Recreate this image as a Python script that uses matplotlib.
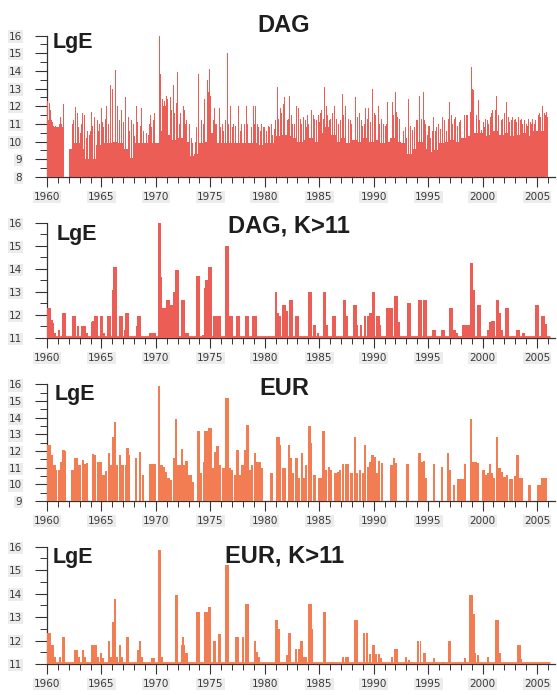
import numpy as np
import matplotlib
matplotlib.use("Agg")
import matplotlib.pyplot as plt
from matplotlib.ticker import MultipleLocator

# ---------------------------------------------------------------------------
# Data: seismic energy (LgE) of events in time, two catalogues (DAG, EUR)
# ---------------------------------------------------------------------------
# DAG, all events: densely filled background level, half-year steps from 1960.0
dag_floor_start = 1960.0
dag_floor = [8.0, 8.0, 8.0, 8.0, 9.6, 9.9, 9.6, 9.0, 9.0, 9.8,
             9.9, 9.9, 10.0, 9.9, 9.6, 9.1, 9.9, 9.9, 9.9, 9.9,
             9.9, 10.6, 10.4, 10.1, 10.2, 10.0, 9.2, 9.3, 9.9, 10.0,
             10.5, 9.9, 9.9, 9.9, 9.9, 9.9, 9.9, 9.9, 9.9, 9.8,
             9.9, 9.9, 10.3, 10.4, 10.3, 10.2, 10.0, 10.1, 10.2, 10.0,
             10.5, 10.8, 10.4, 10.0, 10.2, 9.9, 10.1, 10.0, 10.2, 10.0,
             10.1, 9.9, 10.0, 10.2, 10.0, 9.9, 9.3, 9.6, 10.0, 9.6,
             9.4, 9.5, 9.9, 10.0, 10.1, 10.0, 10.2, 10.3, 10.5, 10.5,
             10.3, 10.4, 10.6, 10.4, 10.5, 10.3, 10.4, 10.5, 10.3, 10.6,
             10.6, 10.6]

# DAG, individual events (year, LgE)
dag_events = [
    (1960.02, 12.3), (1960.12, 11.2), (1960.2, 12.2), (1960.3, 11.8), (1960.4, 11.2),
    (1960.52, 11.1), (1960.62, 10.8), (1960.75, 10.9), (1960.88, 10.8), (1961.0, 10.8),
    (1961.12, 11.0), (1961.25, 11.4), (1961.35, 10.9), (1961.55, 12.1), (1962.3, 11.0),
    (1962.45, 11.2), (1962.6, 11.95), (1962.8, 11.6), (1963.1, 10.5), (1963.3, 11.6),
    (1963.45, 11.5), (1963.7, 10.6), (1963.9, 10.4), (1964.1, 11.7), (1964.35, 11.4),
    (1964.5, 11.9), (1964.7, 10.6), (1965.0, 11.9), (1965.2, 10.8), (1965.5, 12.0),
    (1965.8, 13.2), (1966.05, 13.0), (1966.25, 14.05), (1966.5, 12.0), (1966.85, 11.8),
    (1967.05, 10.9), (1967.2, 12.5), (1967.45, 11.4), (1967.8, 11.2), (1968.0, 10.3),
    (1968.2, 12.0), (1968.45, 10.6), (1968.7, 11.9), (1969.0, 11.4), (1969.3, 10.4),
    (1969.5, 11.5), (1969.75, 11.2), (1969.9, 11.6), (1970.3, 16.0), (1970.45, 13.8),
    (1970.6, 12.4), (1970.8, 12.3), (1971.0, 12.6), (1971.2, 12.2), (1971.35, 12.5),
    (1971.6, 13.2), (1971.75, 11.6), (1971.96, 13.95), (1972.15, 11.0), (1972.4, 12.7),
    (1972.6, 11.8), (1972.8, 11.2), (1973.1, 11.0), (1973.4, 9.9), (1973.9, 13.85),
    (1974.2, 11.2), (1974.4, 11.0), (1974.6, 13.2), (1974.75, 13.5), (1974.95, 14.1),
    (1975.15, 12.0), (1975.35, 11.9), (1975.6, 11.0), (1975.8, 11.9), (1976.1, 11.0),
    (1976.55, 15.0), (1976.85, 12.0), (1977.1, 11.0), (1977.3, 10.9), (1977.6, 12.0),
    (1977.9, 11.0), (1978.3, 12.0), (1978.55, 11.0), (1978.95, 12.0), (1979.15, 12.0),
    (1979.45, 10.8), (1979.7, 11.0), (1980.0, 10.8), (1980.3, 10.9), (1980.6, 11.0),
    (1980.85, 10.7), (1981.15, 13.1), (1981.4, 11.9), (1981.7, 12.1), (1981.85, 12.5),
    (1982.05, 11.2), (1982.3, 12.6), (1982.55, 11.0), (1982.9, 12.0), (1983.1, 11.9),
    (1983.4, 11.0), (1983.7, 11.2), (1983.9, 11.5), (1984.15, 13.1), (1984.45, 11.5),
    (1984.75, 11.2), (1985.0, 11.1), (1985.25, 11.8), (1985.5, 13.1), (1985.8, 11.5),
    (1986.05, 11.3), (1986.4, 12.0), (1986.8, 11.0), (1987.1, 12.7), (1987.4, 12.0),
    (1987.7, 11.3), (1988.1, 12.4), (1988.3, 12.5), (1988.7, 11.6), (1989.0, 10.9),
    (1989.26, 11.9), (1989.55, 11.9), (1989.9, 13.0), (1990.2, 11.5), (1990.4, 12.0),
    (1990.9, 11.0), (1991.1, 10.9), (1991.3, 12.25), (1991.7, 12.25), (1992.0, 12.8),
    (1992.2, 11.4), (1992.6, 11.0), (1992.9, 10.8), (1993.2, 12.4), (1993.6, 10.65),
    (1993.9, 11.2), (1994.2, 12.6), (1994.55, 12.8), (1994.8, 11.0), (1995.0, 10.9),
    (1995.25, 10.2), (1995.5, 11.4), (1995.8, 10.8), (1996.3, 11.4), (1996.7, 10.6),
    (1997.0, 12.25), (1997.4, 11.3), (1997.85, 11.1), (1998.2, 11.4), (1998.5, 11.5),
    (1999.0, 14.2), (1999.2, 12.9), (1999.6, 12.35), (1999.9, 10.65), (2000.2, 10.8),
    (2000.45, 11.2), (2000.7, 11.4), (2000.9, 11.8), (2001.3, 12.6), (2001.7, 11.2),
    (2002.2, 12.25), (2002.5, 11.1), (2002.9, 11.2), (2003.3, 11.4), (2003.7, 11.0),
    (2004.1, 10.9), (2004.5, 11.0), (2004.75, 11.0), (2005.0, 12.35), (2005.25, 11.6),
    (2005.5, 12.0), (2005.75, 11.5), (2005.95, 11.4),
    # smaller events between the larger ones
    (1960.07, 11.5), (1960.15, 11.0), (1960.25, 11.6), (1960.35, 11.2), (1960.45, 11.0),
    (1960.57, 10.9), (1960.68, 10.8), (1960.8, 10.7), (1960.93, 10.8), (1961.05, 10.8),
    (1961.18, 10.9), (1961.3, 11.0), (1961.42, 10.8), (1961.5, 11.8),
    (1962.9, 10.8), (1963.2, 11.0), (1963.6, 10.2), (1964.0, 10.6), (1964.2, 10.9),
    (1964.6, 11.2), (1964.85, 11.0), (1965.1, 11.1), (1965.35, 11.3), (1965.65, 11.0),
    (1966.65, 11.2), (1967.0, 11.1), (1967.6, 10.6), (1967.95, 11.0), (1968.35, 11.1),
    (1968.6, 10.9), (1968.85, 10.6), (1969.15, 10.5), (1969.4, 11.0), (1969.6, 10.8),
    (1970.1, 10.6), (1970.7, 12.0), (1970.9, 12.0), (1971.1, 12.4), (1971.45, 11.8),
    (1971.85, 12.2), (1972.3, 11.6), (1972.5, 12.0), (1972.7, 11.0), (1972.95, 10.8),
    (1973.25, 10.2), (1973.6, 10.0), (1973.75, 10.8), (1974.05, 10.6), (1974.5, 12.4),
    (1974.85, 12.8), (1975.05, 12.6), (1975.25, 11.2), (1975.45, 11.0), (1975.7, 11.5),
    (1975.95, 10.8), (1976.25, 10.6), (1976.4, 11.2), (1976.7, 11.0), (1977.0, 10.8),
    (1977.45, 11.0), (1977.75, 10.6), (1978.1, 11.0), (1978.45, 11.0), (1978.75, 10.8),
    (1979.05, 11.0), (1979.3, 11.0), (1979.6, 10.6), (1979.85, 10.8), (1980.15, 10.6),
    (1980.45, 10.8), (1980.75, 10.4), (1981.0, 11.2), (1981.3, 11.3), (1981.55, 11.6),
    (1982.2, 11.3), (1982.45, 11.5), (1982.75, 11.0), (1983.25, 11.3), (1983.55, 11.4),
    (1983.8, 10.8), (1984.05, 11.0), (1984.3, 11.8), (1984.6, 11.3), (1984.9, 11.5),
    (1985.1, 11.6), (1985.4, 11.3), (1985.65, 12.0), (1985.95, 11.2), (1986.2, 11.6),
    (1986.55, 11.3), (1986.95, 11.2), (1987.25, 11.5), (1987.55, 11.0), (1987.85, 11.2),
    (1988.0, 11.0), (1988.5, 11.4), (1988.85, 11.2), (1989.15, 11.0), (1989.4, 11.3),
    (1989.7, 11.1), (1990.05, 11.6), (1990.55, 11.0), (1990.75, 11.3), (1991.2, 11.0),
    (1991.5, 11.3), (1991.85, 11.5), (1992.1, 11.7), (1992.4, 11.3), (1992.75, 10.6),
    (1993.05, 10.2), (1993.4, 10.9), (1993.75, 10.8), (1994.05, 11.2), (1994.4, 11.3),
    (1994.65, 11.2), (1994.95, 10.4), (1995.1, 10.9), (1995.4, 10.6), (1995.65, 10.6),
    (1995.95, 11.0), (1996.15, 10.7), (1996.5, 11.2), (1996.85, 11.3), (1997.15, 11.5),
    (1997.25, 11.0), (1997.55, 11.4), (1997.7, 10.9), (1998.0, 11.2), (1998.35, 11.5),
    (1998.65, 11.5), (1998.85, 11.7), (1999.1, 13.0), (1999.4, 11.5), (1999.75, 11.2),
    (2000.05, 11.1), (2000.3, 11.3), (2000.55, 11.0), (2000.8, 11.6), (2001.05, 11.4),
    (2001.15, 11.8), (2001.5, 11.5), (2001.85, 11.3), (2002.05, 11.6), (2002.35, 11.4),
    (2002.65, 11.2), (2002.75, 11.4), (2003.05, 11.3), (2003.15, 11.1), (2003.45, 11.2),
    (2003.55, 11.3), (2003.85, 11.2), (2004.0, 11.0), (2004.25, 11.3), (2004.4, 11.1),
    (2004.6, 11.3), (2004.9, 11.2), (2005.15, 11.5), (2005.35, 11.4), (2005.65, 11.6),
    (2005.85, 11.7),
]

# DAG, events with K > 11
dagk_events = [
    (1960.05, 12.3), (1960.25, 12.3), (1960.45, 11.8), (1960.55, 11.65), (1960.75, 11.2),
    (1961.1, 11.35), (1961.45, 12.1), (1961.6, 12.1), (1962.4, 11.95), (1962.6, 11.95),
    (1962.85, 11.5), (1963.2, 11.5), (1963.45, 11.5), (1963.7, 11.2), (1964.1, 11.7),
    (1964.25, 11.75), (1964.45, 11.95), (1964.6, 11.95), (1965.0, 11.95), (1965.2, 11.2),
    (1965.6, 11.95), (1965.75, 11.95), (1966.1, 13.1), (1966.2, 14.1), (1966.35, 14.1),
    (1966.7, 11.95), (1966.85, 11.95), (1967.15, 11.35), (1967.3, 12.1), (1967.45, 12.1),
    (1968.25, 11.5), (1968.4, 11.95), (1968.55, 11.95), (1969.5, 11.2), (1969.7, 11.2),
    (1969.9, 11.2), (1970.25, 16.0), (1970.4, 16.0), (1970.5, 13.65), (1970.7, 12.3),
    (1970.85, 12.3), (1971.0, 12.65), (1971.15, 12.65), (1971.35, 12.45), (1971.5, 12.45),
    (1971.65, 13.0), (1971.9, 13.95), (1972.05, 13.95), (1972.45, 12.65), (1972.6, 12.65),
    (1972.8, 11.2), (1972.95, 11.2), (1973.8, 13.7), (1973.95, 13.7), (1974.3, 11.15),
    (1974.5, 13.15), (1974.65, 13.5), (1974.8, 13.5), (1974.9, 14.1), (1975.05, 14.1),
    (1975.3, 11.95), (1975.45, 11.95), (1975.6, 11.95), (1975.75, 11.95), (1975.9, 11.95),
    (1976.45, 15.0), (1976.6, 15.0), (1976.8, 11.95), (1976.95, 11.95), (1977.5, 11.95),
    (1977.65, 11.95), (1978.3, 11.95), (1978.45, 11.95), (1978.9, 11.95), (1979.05, 11.95),
    (1979.2, 11.95), (1981.05, 13.0), (1981.2, 12.1), (1981.35, 11.95), (1981.7, 12.45),
    (1981.85, 12.45), (1982.0, 12.15), (1982.3, 12.65), (1982.45, 12.65), (1982.9, 11.95),
    (1983.05, 11.95), (1984.1, 13.0), (1984.25, 13.0), (1984.5, 11.55), (1984.6, 11.55),
    (1984.9, 11.2), (1985.4, 13.0), (1985.55, 13.0), (1985.75, 11.55), (1986.3, 11.95),
    (1986.4, 11.95), (1987.25, 12.65), (1987.4, 12.65), (1987.55, 11.95), (1988.2, 12.45),
    (1988.35, 12.45), (1988.5, 11.55), (1988.8, 11.55), (1989.2, 11.95), (1989.5, 11.95),
    (1989.7, 12.1), (1989.9, 13.0), (1990.05, 13.0), (1990.3, 11.95), (1990.45, 11.95),
    (1990.6, 11.55), (1991.25, 12.3), (1991.45, 12.3), (1991.65, 12.3), (1992.0, 12.8),
    (1992.15, 12.8), (1992.3, 11.7), (1993.2, 12.5), (1993.35, 12.5), (1994.2, 12.65),
    (1994.35, 12.65), (1994.6, 12.65), (1994.75, 12.65), (1995.5, 11.35), (1995.6, 11.35),
    (1996.3, 11.35), (1996.45, 11.35), (1997.0, 12.3), (1997.15, 12.3), (1997.35, 11.35),
    (1997.5, 11.35), (1997.65, 11.2), (1998.25, 11.55), (1998.4, 11.55), (1998.55, 11.55),
    (1998.7, 11.55), (1998.9, 14.25), (1999.05, 14.25), (1999.2, 13.1), (1999.6, 12.45),
    (1999.75, 12.45), (2000.5, 11.35), (2000.7, 11.7), (2000.85, 11.75), (2001.0, 11.75),
    (2001.3, 12.65), (2001.45, 12.65), (2001.6, 12.1), (2001.75, 11.35), (2002.2, 12.3),
    (2002.35, 12.3), (2003.2, 11.35), (2003.35, 11.35), (2003.75, 11.2), (2004.9, 12.45),
    (2005.05, 12.45), (2005.45, 11.95), (2005.6, 11.95), (2005.8, 11.6),
]

# EUR, all events
eur_events = [
    (1960.1, 12.36), (1960.25, 12.36), (1960.4, 11.76), (1960.55, 11.16), (1960.7, 11.16),
    (1960.85, 10.86), (1961.1, 10.86), (1961.3, 11.36), (1961.5, 12.06), (1961.65, 12.0),
    (1962.35, 10.86), (1962.55, 11.56), (1962.75, 11.56), (1963.0, 11.16), (1963.3, 11.46),
    (1963.5, 11.2), (1963.7, 11.26), (1964.2, 11.8), (1964.4, 11.76), (1964.7, 11.36),
    (1964.9, 11.36), (1965.2, 10.56), (1965.4, 10.8), (1965.7, 11.9), (1965.9, 11.16),
    (1966.1, 12.86), (1966.25, 13.76), (1966.4, 11.16), (1966.7, 11.76), (1966.95, 11.16),
    (1967.25, 11.16), (1967.4, 12.16), (1967.55, 11.76), (1968.2, 11.56), (1968.55, 11.96),
    (1968.8, 10.56), (1969.5, 11.2), (1969.75, 11.2), (1969.9, 11.2), (1970.3, 15.92),
    (1970.5, 11.16), (1970.75, 11.06), (1970.9, 10.76), (1971.15, 10.36), (1971.35, 10.26),
    (1971.65, 11.56), (1971.85, 13.92), (1972.0, 11.16), (1972.15, 11.16), (1972.4, 12.12),
    (1972.55, 11.16), (1972.8, 11.4), (1973.0, 10.56), (1973.2, 10.56), (1973.4, 10.16),
    (1973.9, 13.2), (1974.15, 10.66), (1974.4, 11.36), (1974.5, 13.2), (1974.7, 13.2),
    (1974.9, 13.36), (1975.05, 13.36), (1975.2, 10.96), (1975.45, 11.96), (1975.65, 12.32),
    (1975.85, 11.16), (1976.2, 11.0), (1976.45, 15.2), (1976.6, 15.2), (1976.75, 10.96),
    (1977.0, 10.86), (1977.3, 10.56), (1977.5, 12.06), (1977.75, 10.56), (1977.95, 11.16),
    (1978.2, 12.06), (1978.4, 13.56), (1978.65, 10.86), (1978.8, 11.16), (1979.1, 11.9),
    (1979.25, 11.36), (1979.5, 11.36), (1979.7, 10.96), (1980.6, 10.66), (1981.1, 12.86),
    (1981.25, 12.86), (1981.4, 12.36), (1981.7, 11.0), (1981.85, 11.0), (1982.2, 12.36),
    (1982.35, 11.56), (1982.6, 10.66), (1982.9, 11.56), (1983.1, 10.36), (1983.4, 11.9),
    (1983.55, 10.36), (1983.8, 11.16), (1984.1, 13.52), (1984.25, 12.46), (1984.55, 10.56),
    (1985.0, 10.36), (1985.2, 10.36), (1985.4, 13.2), (1985.6, 10.86), (1985.9, 11.06),
    (1986.1, 10.86), (1986.5, 10.66), (1986.75, 10.76), (1986.9, 10.86), (1987.2, 11.2),
    (1987.45, 11.2), (1987.65, 11.2), (1987.95, 10.66), (1988.3, 12.86), (1988.45, 10.66),
    (1988.75, 10.86), (1989.0, 10.66), (1989.2, 12.36), (1989.45, 11.06), (1989.65, 11.36),
    (1989.9, 11.76), (1990.1, 11.66), (1990.35, 10.66), (1990.5, 11.4), (1990.75, 11.26),
    (1991.65, 11.16), (1991.85, 11.56), (1992.05, 11.26), (1993.1, 11.2), (1994.2, 11.9),
    (1994.4, 11.36), (1994.6, 11.4), (1994.8, 10.36), (1995.55, 11.2), (1996.3, 11.06),
    (1996.85, 11.86), (1997.0, 10.86), (1997.4, 9.96), (1997.8, 10.32), (1998.0, 10.32),
    (1998.2, 10.32), (1998.4, 11.2), (1998.95, 13.92), (1999.15, 11.36), (1999.4, 11.32),
    (1999.6, 11.26), (2000.1, 10.86), (2000.35, 10.56), (2000.55, 10.66), (2000.7, 11.2),
    (2000.85, 10.66), (2001.05, 10.36), (2001.3, 12.86), (2001.55, 11.0), (2001.75, 10.76),
    (2002.0, 10.46), (2002.25, 10.56), (2002.5, 10.32), (2002.7, 10.32), (2002.95, 10.5),
    (2003.2, 11.76), (2003.45, 10.36), (2003.6, 10.36), (2004.3, 9.96), (2005.1, 9.96),
    (2005.25, 9.96), (2005.5, 10.36), (2005.7, 10.36), (2005.85, 10.36),
]

# EUR, events with K > 11
eurk_events = [
    (1960.1, 12.33), (1960.25, 12.33), (1960.4, 11.8), (1960.55, 11.8), (1960.7, 11.3),
    (1961.2, 11.3), (1961.45, 12.16), (1961.6, 12.16), (1962.55, 11.6), (1962.75, 11.6),
    (1962.95, 11.3), (1963.3, 11.6), (1963.45, 11.3), (1964.1, 11.8), (1964.3, 11.8),
    (1964.5, 11.8), (1964.7, 11.3), (1965.0, 11.45), (1965.15, 11.25), (1965.7, 12.0),
    (1965.9, 11.3), (1966.1, 12.8), (1966.25, 13.78), (1966.4, 11.3), (1966.7, 11.8),
    (1966.85, 11.3), (1967.3, 12.16), (1967.45, 12.16), (1968.4, 11.6), (1968.55, 12.0),
    (1968.7, 11.3), (1969.6, 11.27), (1969.8, 11.27), (1970.25, 15.86), (1970.4, 15.86),
    (1970.55, 11.3), (1971.85, 13.92), (1971.98, 13.92), (1972.4, 11.8), (1972.5, 12.16),
    (1972.6, 11.8), (1972.8, 11.45), (1972.9, 11.45), (1973.8, 13.22), (1973.95, 13.22),
    (1974.5, 13.22), (1974.65, 13.22), (1974.9, 13.43), (1975.0, 13.43), (1975.35, 12.0),
    (1975.45, 12.0), (1975.75, 12.3), (1975.9, 12.3), (1976.45, 15.2), (1976.6, 15.2),
    (1977.4, 12.16), (1977.55, 12.16), (1978.0, 12.16), (1978.3, 13.57), (1978.45, 13.57),
    (1979.1, 12.0), (1979.3, 11.5), (1979.45, 11.3), (1981.0, 12.86), (1981.15, 12.86),
    (1981.3, 12.5), (1982.0, 11.38), (1982.2, 12.33), (1982.35, 12.33), (1982.9, 11.62),
    (1983.1, 11.62), (1983.3, 11.97), (1983.45, 11.97), (1983.6, 11.3), (1983.8, 11.3),
    (1984.1, 13.57), (1984.25, 13.57), (1984.35, 12.5), (1985.4, 13.22), (1985.55, 13.22),
    (1986.15, 11.1), (1987.2, 11.28), (1987.5, 11.28), (1987.65, 11.28), (1988.3, 12.86),
    (1988.45, 12.86), (1989.15, 12.33), (1989.35, 12.33), (1989.65, 11.42), (1989.9, 11.8),
    (1990.05, 11.8), (1990.2, 11.42), (1990.5, 11.42), (1990.7, 11.25), (1991.65, 11.28),
    (1992.0, 11.62), (1992.15, 11.62), (1993.0, 11.28), (1993.25, 11.15), (1994.1, 11.97),
    (1994.3, 11.97), (1994.6, 11.45), (1994.75, 11.45), (1995.5, 11.24), (1996.35, 11.1),
    (1996.9, 12.0), (1997.05, 12.0), (1998.4, 11.24), (1998.85, 13.92), (1999.0, 13.92),
    (1999.2, 13.15), (1999.35, 11.45), (1999.6, 11.38), (2000.5, 11.28), (2001.25, 12.86),
    (2001.45, 12.86), (2001.6, 11.45), (2003.25, 11.8), (2003.4, 11.8), (2003.5, 11.2),
]

k_threshold = 11.0
catalogue_span = (1960.0, 2006.2)

titles = ["DAG", "DAG, K>11", "EUR", "EUR, K>11"]
y_limits = [(8, 16), (11, 16), (9, 16), (11, 16)]
year_ticks = list(range(1960, 2006, 5))

DAG_RED = "#EC5E55"
EUR_ORANGE = "#F27D52"
AXIS_GREY = "#333333"

# ---------------------------------------------------------------------------
W, H = 557, 695
fig = plt.figure(figsize=(W / 100, H / 100), dpi=100)
fig.patch.set_facecolor("white")


def px_rect(left, right, top, bottom):
    return [left / W, 1 - bottom / H, (right - left) / W, (bottom - top) / H]


# axes frames (left, right, y-pixel of top value, y-pixel of baseline)
frames = [(47, 555, 35, 177), (47, 555, 222, 338), (47, 555, 384, 501), (47, 555, 546, 664)]
title_pos = [(284, 32), (289, 233), (284, 395), (285, 562)]
lge_pos = [(53, 48), (57, 240), (55, 400), (53, 563)]

axes = [fig.add_axes(px_rect(*f)) for f in frames]


def style_axis(ax, ylim):
    ax.set_xlim(1960, 2006.65)
    ax.set_ylim(ylim[0], ylim[1] + 0.03)
    for s in ("top", "right"):
        ax.spines[s].set_visible(False)
    for s in ("left", "bottom"):
        ax.spines[s].set_color(AXIS_GREY)
        ax.spines[s].set_linewidth(0.9)
    ax.spines["left"].set_bounds(ylim[0], ylim[1])
    ax.set_xticks(year_ticks)
    ax.xaxis.set_minor_locator(MultipleLocator(1))
    ax.set_yticks(range(ylim[0], ylim[1] + 1))
    ax.yaxis.set_minor_locator(MultipleLocator(0.5))
    ax.tick_params(which="major", direction="out", length=7, width=0.8,
                   color=AXIS_GREY, labelsize=7.5, labelcolor="#3a3a3a", pad=4)
    ax.tick_params(which="minor", direction="out", length=4, width=0.7, color=AXIS_GREY)
    ax.tick_params(axis="y", which="major", length=9, pad=9)
    ax.tick_params(axis="y", which="minor", length=5)
    for lbl in ax.get_xticklabels() + ax.get_yticklabels():
        lbl.set_bbox(dict(facecolor="#ececec", edgecolor="none", pad=0.8))
    ax.set_facecolor("none")


def draw_events(ax, events, base, width, color):
    yrs = np.array([e[0] for e in events])
    vals = np.array([e[1] for e in events])
    ax.bar(yrs, vals - base, bottom=base, width=width, color=color,
           linewidth=0, align="center", zorder=3)


# Panel 1: DAG, all events
ax = axes[0]
floor_x = dag_floor_start + 0.5 * np.arange(len(dag_floor))
floor_v = np.array(dag_floor)
ax.bar(floor_x, floor_v - 8, bottom=8, width=0.5, align="edge",
       color=DAG_RED, linewidth=0, zorder=2)
draw_events(ax, dag_events, 8, 0.085, DAG_RED)
style_axis(ax, y_limits[0])

# Panel 2: DAG, K>11
ax = axes[1]
draw_events(ax, dagk_events, k_threshold, 0.2, DAG_RED)
ax.hlines(k_threshold + 0.04, *catalogue_span, color=DAG_RED, lw=2.0, zorder=3)
style_axis(ax, y_limits[1])

# Panel 3: EUR, all events
ax = axes[2]
draw_events(ax, eur_events, 9, 0.22, EUR_ORANGE)
style_axis(ax, y_limits[2])

# Panel 4: EUR, K>11
ax = axes[3]
draw_events(ax, eurk_events, k_threshold, 0.18, EUR_ORANGE)
ax.hlines(k_threshold + 0.04, *catalogue_span, color=EUR_ORANGE, lw=2.0, zorder=3)
style_axis(ax, y_limits[3])

for (tx, ty), t in zip(title_pos, titles):
    fig.text(tx / W, 1 - ty / H, t, ha="center", va="baseline",
             fontsize=17, fontweight="bold", family="Liberation Sans", color="#1e1e1e")
for (lx, ly) in lge_pos:
    fig.text(lx / W, 1 - ly / H, "LgE", ha="left", va="baseline",
             fontsize=15.5, fontweight="bold", family="Liberation Sans", color="#1e1e1e")

fig.savefig("out.png", dpi=100, facecolor="white")
